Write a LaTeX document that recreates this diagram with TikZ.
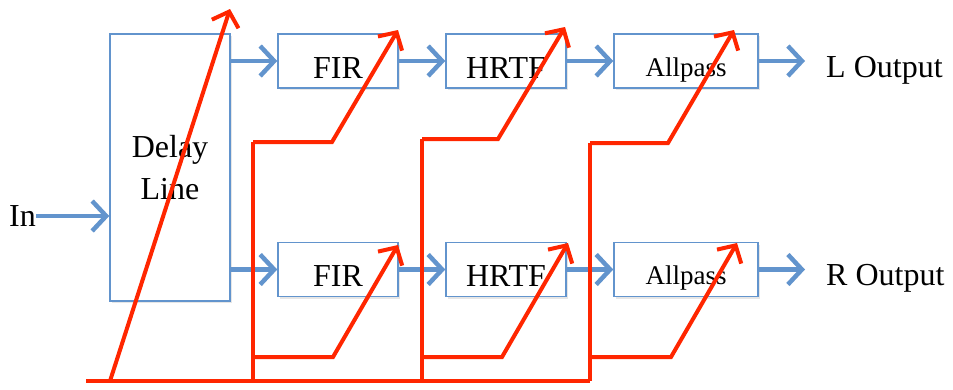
\documentclass[tikz,border=0pt]{standalone}
\usepackage{fontspec}
\setmainfont{Liberation Serif}
\usetikzlibrary{arrows.meta,shadows}

\definecolor{sigblue}{RGB}{98,148,205}
\definecolor{ctrlred}{RGB}{255,38,0}

% text set lower than the middle of its box
\newcommand{\lowtext}[2]{\smash{\raisebox{-#1}{#2}}}

\tikzset{
	blk/.style={draw=sigblue, line width=1.5pt, fill=white, inner sep=0pt,
		minimum width=120pt, minimum height=54pt, font=\fontsize{32}{34}\selectfont,
		drop shadow={shadow xshift=1.5pt, shadow yshift=-2pt, opacity=0.2}},
	sig/.style={draw=sigblue, line width=4.5pt, -{Straight Barb[length=14pt,width=30pt]}},
	ctrl/.style={draw=ctrlred, line width=4pt, line join=miter},
	ctrlarr/.style={ctrl, -{Straight Barb[length=13pt,width=28pt]}},
	lbl/.style={inner sep=0pt, font=\fontsize{32}{34}\selectfont}
}

\begin{document}
\begin{tikzpicture}[x=1pt, y=-1pt]
			%%%%% START %%%%%
			\useasboundingbox (0, 0) rectangle (953, 389);
			
			\node[blk, minimum height=267pt, align=center] (delay) at (170, 167.5) {Delay\\[8pt]Line};
			
			\node[blk] (firL) at (338, 61) {\lowtext{17pt}{FIR}};
			\node[blk] (hrtfL) at (506, 61) {\lowtext{17pt}{HRTF}};
			\node[blk, minimum width=144pt, font=\fontsize{27}{29}\selectfont] (apL) at (686, 61) {\lowtext{15pt}{Allpass}};
			
			\node[blk] (firR) at (338, 269.5) {\lowtext{17pt}{FIR}};
			\node[blk] (hrtfR) at (506, 269.5) {\lowtext{17pt}{HRTF}};
			\node[blk, minimum width=144pt, font=\fontsize{27}{29}\selectfont] (apR) at (686, 269.5) {\lowtext{15pt}{Allpass}};
			
			\node[lbl, anchor=west] (in) at (9, 216) {In};
			\node[lbl, anchor=west] (outL) at (826, 61) {\lowtext{16pt}{L Output}};
			\node[lbl, anchor=west] (outR) at (826, 269.5) {\lowtext{16pt}{R Output}};
			
			% signal path
			\draw[sig] (in.east) -- (in.east -| delay.west);
			\draw[sig] (delay.east |- firL.west) -- (firL.west);
			\draw[sig] (delay.east |- firR.west) -- (firR.west);
			\draw[sig] (firL) -- (hrtfL);
			\draw[sig] (firR) -- (hrtfR);
			\draw[sig] (hrtfL) -- (apL);
			\draw[sig] (hrtfR) -- (apR);
			\draw[sig, shorten >=21pt] (apL.east) -- (apL.east -| outL.west);
			\draw[sig, shorten >=21pt] (apR.east) -- (apR.east -| outR.west);
			
			% control bus
			\draw[ctrl] (86, 381) -- (590, 381);
			\draw[ctrlarr] (110, 381) -- (230, 9);
			
			\draw[ctrl] (253, 381) -- (253, 142);
			\draw[ctrlarr] (253, 142) -- (332, 142) -- (398, 30);
			\draw[ctrlarr] (253, 357) -- (333, 357) -- (398, 245);
			
			\draw[ctrl] (422, 381) -- (422, 139);
			\draw[ctrlarr] (422, 139) -- (498, 139) -- (565, 27);
			\draw[ctrlarr] (422, 357) -- (502, 357) -- (568, 243);
			
			\draw[ctrl] (590, 381) -- (590, 143);
			\draw[ctrlarr] (590, 143) -- (668, 143) -- (734, 30);
			\draw[ctrlarr] (590, 357) -- (671, 357) -- (737, 243);
			%%%%% END %%%%%
\end{tikzpicture}
\end{document}
